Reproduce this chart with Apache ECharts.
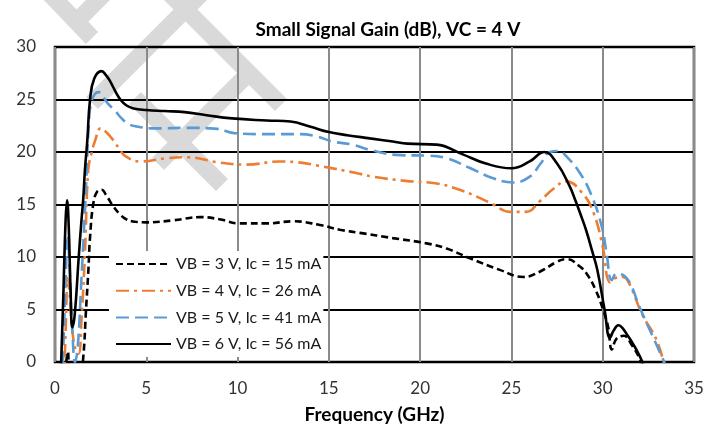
<!DOCTYPE html>
<html>
<head>
<meta charset="utf-8">
<script src="https://cdn.jsdelivr.net/npm/echarts@6/dist/echarts.min.js"></script>
<style>
html,body{margin:0;padding:0;background:#fff;}
#chart{width:719px;height:430px;}
</style>
</head>
<body>
<div id="chart"></div>
<script>
// ---- data (frequency GHz, gain dB) ----
var titleText = 'Small Signal Gain (dB), VC = 4 V';
var xName = 'Frequency (GHz)';
var seriesNames = ['VB = 3 V, Ic = 15 mA', 'VB = 4 V, Ic = 26 mA', 'VB = 5 V, Ic = 41 mA', 'VB = 6 V, Ic = 56 mA'];

var vb3Data = [[0.55,-2],[0.7,1],[0.85,-2],[1.3,-3],[1.55,0.5],[1.7,5],[1.83,8.8],[1.92,11.9],[2.1,15.1],[2.3,16.2],[2.55,16.4],[2.8,15.9],[3.2,14.8],[3.6,14.0],[3.9,13.6],[4.4,13.35],[5.0,13.3],[6.5,13.5],[7.95,13.8],[9.0,13.6],[10.1,13.2],[11.6,13.2],[13.05,13.4],[14.5,13.05],[15.6,12.6],[16.7,12.3],[18.5,11.8],[20.35,11.3],[21.45,10.8],[22.7,9.9],[24.4,8.75],[25.65,8.1],[26.55,8.6],[27.5,9.55],[28.0,9.8],[28.75,9.1],[29.2,8.2],[29.6,6.9],[30.0,5.1],[30.3,3.3],[30.5,1.2],[30.75,2.2],[31.15,2.5],[31.6,1.6],[32.0,0.4],[32.3,-1]];

var vb4Data = [[0.5,-2],[0.6,4],[0.7,8],[0.8,6.5],[0.95,3],[1.15,1],[1.3,0.8],[1.45,4],[1.64,10.4],[1.82,18.3],[2.0,19.9],[2.2,21.1],[2.5,22.25],[2.8,21.9],[3.2,21.1],[3.6,20.1],[3.9,19.55],[4.65,19.1],[6.1,19.4],[7.2,19.5],[9.0,19.0],[10.5,18.8],[12.3,19.1],[13.1,19.05],[14.7,18.6],[16.5,18.0],[17.4,17.65],[19.2,17.25],[20.9,17.0],[22.0,16.5],[23.1,15.75],[24.0,15.0],[24.9,14.3],[25.8,14.3],[26.55,15.3],[27.3,16.5],[28.0,17.2],[28.9,16.05],[29.5,14.2],[30.0,11.0],[30.4,7.6],[30.7,8.0],[31.1,8.1],[31.4,7.65],[32.2,4.4],[32.95,2.1],[33.4,-0.5]];

var vb5Data = [[0.4,-2],[0.55,6],[0.7,11.8],[0.8,9],[0.95,3],[1.1,0],[1.25,1.5],[1.45,8],[1.6,13],[1.72,17.5],[1.85,22.5],[2.0,24.8],[2.37,25.7],[2.9,24.6],[3.3,23.9],[3.65,23.2],[4.0,22.7],[4.4,22.45],[5.5,22.25],[7.2,22.3],[8.9,22.2],[9.8,21.8],[11.6,21.7],[13.4,21.7],[14.3,21.5],[15.2,21.0],[16.3,20.7],[17.25,20.2],[18.9,19.7],[20.4,19.65],[21.45,19.4],[22.7,18.5],[24.0,17.5],[25.1,17.1],[26.0,17.65],[26.6,18.9],[27.1,20.0],[27.6,20.1],[28.0,19.6],[28.75,18.0],[29.4,15.8],[29.95,12.9],[30.2,10.5],[30.5,7.8],[30.75,8.4],[31.1,8.3],[31.5,7.5],[32.0,5.3],[32.75,2.4],[33.5,-0.5]];

var vb6Data = [[0.3,-2],[0.45,6],[0.58,13.5],[0.66,15.4],[0.75,13],[0.85,7],[0.95,3.3],[1.08,4.5],[1.3,10],[1.45,13.5],[1.55,15.6],[1.64,18.3],[1.77,21.1],[1.92,25],[2.15,27.0],[2.55,27.7],[2.8,27.3],[3.0,26.8],[3.3,25.8],[3.6,24.95],[3.9,24.45],[4.3,24.15],[5.0,24.0],[6.0,23.9],[7.1,23.8],[8.3,23.5],[9.7,23.2],[11.6,23.0],[12.9,22.9],[14.0,22.4],[15.0,21.9],[16.0,21.6],[17.25,21.3],[18.5,21.0],[19.3,20.8],[20.9,20.7],[22.3,19.8],[23.6,18.9],[25.0,18.45],[26.0,19.1],[26.8,20.0],[27.5,18.9],[28.2,16.7],[28.5,15.4],[28.8,14.0],[29.1,12.5],[29.4,10.7],[29.7,8.8],[30.1,5.0],[30.4,2.3],[30.6,3.0],[30.85,3.5],[31.3,2.7],[31.85,1.15],[32.25,-0.3]];

var xTicks = {min: 0, max: 35, step: 5};
var yTicks = {min: 0, max: 30, step: 5};

// watermark bands (decoration): centerline endpoints in pixels
var watermarkBands = [
  [[46,-10],[92,38]],
  [[82,16],[106,-8]],
  [[166,-10],[281,105]],
  [[92,103],[205,-10]],
  [[158,164],[250,72]],
  [[135,98],[222,185]]
];

var FONT = 'Lato, Carlito, "Liberation Sans", sans-serif';

function bandPoly(p, q, w) {
  var dx = q[0]-p[0], dy = q[1]-p[1];
  var L = Math.sqrt(dx*dx+dy*dy);
  var nx = -dy/L*w/2, ny = dx/L*w/2;
  return [[p[0]+nx,p[1]+ny],[q[0]+nx,q[1]+ny],[q[0]-nx,q[1]-ny],[p[0]-nx,p[1]-ny]];
}

var chart = echarts.init(document.getElementById('chart'), null, {renderer: 'canvas'});

var graphics = watermarkBands.map(function (b) {
  return {
    type: 'polygon',
    z: -10,
    silent: true,
    shape: {points: bandPoly(b[0], b[1], 17)},
    style: {fill: '#d9d9d9'}
  };
});

function lineSeries(i, data, color, dash, z) {
  return {
    name: seriesNames[i], type: 'line', data: data,
    showSymbol: false, symbol: 'none', smooth: 0.45,
    lineStyle: {color: color, width: 2.6, type: dash},
    itemStyle: {color: color, opacity: 0},
    z: z
  };
}

var option = {
  animation: false,
  backgroundColor: '#ffffff',
  graphic: graphics,
  title: {
    text: titleText,
    left: 383,
    top: 15,
    textAlign: 'center',
    textStyle: {fontFamily: FONT, fontSize: 19, fontWeight: 'bold', color: '#000'}
  },
  grid: {
    left: 55, right: 25, top: 47, bottom: 68,
    show: true, borderColor: '#000', borderWidth: 2.5, backgroundColor: 'transparent'
  },
  legend: {
    data: seriesNames,
    orient: 'vertical',
    left: 109,
    top: 251,
    padding: [5, 2, 5, 6],
    itemWidth: 55,
    itemHeight: 14,
    itemGap: 10.7,
    backgroundColor: '#ffffff',
    selectedMode: false,
    itemStyle: {opacity: 0},
    textStyle: {fontFamily: FONT, fontSize: 16, color: '#1a1a1a'}
  },
  xAxis: {
    type: 'value',
    min: xTicks.min, max: xTicks.max, interval: xTicks.step,
    name: xName,
    nameLocation: 'middle',
    nameGap: 43,
    nameTextStyle: {fontFamily: FONT, fontSize: 19, fontWeight: 'bold', color: '#000'},
    axisLine: {show: false},
    axisTick: {show: false},
    axisLabel: {fontFamily: FONT, fontSize: 17, color: '#333', margin: 18},
    splitLine: {show: true, lineStyle: {color: '#8a8a8a', width: 2}}
  },
  yAxis: {
    type: 'value',
    min: yTicks.min, max: yTicks.max, interval: yTicks.step,
    axisLine: {show: false},
    axisTick: {show: false},
    axisLabel: {fontFamily: FONT, fontSize: 17, color: '#333', margin: 19},
    splitLine: {show: true, lineStyle: {color: '#000', width: 2}}
  },
  series: [
    lineSeries(0, vb3Data, '#000000', [7, 4], 3),
    lineSeries(1, vb4Data, '#ED7D31', [13, 5, 3, 5], 3),
    lineSeries(2, vb5Data, '#5B9BD5', [13, 6], 3),
    lineSeries(3, vb6Data, '#000000', 'solid', 4)
  ]
};
chart.setOption(option);
</script>
</body>
</html>
